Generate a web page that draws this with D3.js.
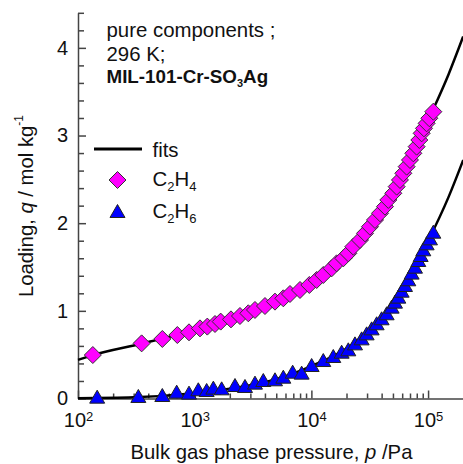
<!DOCTYPE html>
<html>
<head>
<meta charset="utf-8">
<script src="https://cdn.jsdelivr.net/npm/d3@7"></script>
<style>
  body { margin: 0; background: #fff; }
  svg { display: block; font-family: "Liberation Sans", Arial, sans-serif; }
</style>
</head>
<body>
<svg></svg>
<script>
// measured isotherm data, C2H4 (p in Pa, q in mol/kg)
const c2h4P = [134, 351, 528, 710, 894, 1110, 1283, 1493, 1670, 2046, 2443, 2881, 3286, 4003, 4877,
  5748, 6556, 7987, 9600, 11100, 12650, 14920, 16460, 18780, 20720, 22870, 26090, 28800, 31770,
  35080, 38730, 42730, 45630, 50360, 53800, 57430, 61360, 65530, 69980, 74740, 79800, 84140,
  88100, 92250, 97200, 102500, 110900];
const c2h4Q = [0.496, 0.629, 0.679, 0.724, 0.755, 0.80, 0.82, 0.85, 0.877, 0.903, 0.941, 0.972, 1.01,
  1.055, 1.105, 1.143, 1.192, 1.238, 1.295, 1.352, 1.409, 1.485, 1.542, 1.599, 1.656, 1.732, 1.808,
  1.884, 1.96, 2.037, 2.113, 2.189, 2.265, 2.341, 2.417, 2.493, 2.569, 2.645, 2.721, 2.797, 2.873,
  2.949, 3.025, 3.082, 3.139, 3.197, 3.272];

// C2H6
const c2h6P = [146, 329, 528, 701, 894, 1074, 1266, 1445, 1702, 2215, 2698, 3286, 3873, 4877, 5748,
  6912, 8253, 10050, 12650, 15410, 18170, 20720, 23640, 26960, 29760, 32840, 36250, 39990, 44160,
  48730, 52050, 55590, 59360, 63390, 67700, 72290, 77230, 82460, 86380, 91020, 97200, 103800, 110900];
const c2h6Q = [0.021, 0.029, 0.040, 0.078, 0.067, 0.105, 0.097, 0.124, 0.116, 0.154, 0.143, 0.181,
  0.211, 0.219, 0.249, 0.306, 0.295, 0.382, 0.439, 0.485, 0.534, 0.561, 0.629, 0.686, 0.743, 0.80,
  0.858, 0.915, 0.972, 1.048, 1.105, 1.162, 1.23, 1.295, 1.36, 1.436, 1.504, 1.58, 1.637, 1.702,
  1.77, 1.827, 1.903];

// fitted curves
const fitC2h4P = [100, 134, 350, 1000, 3000, 10000, 20000, 30000, 50000, 70000, 100000, 150000, 200000];
const fitC2h4Q = [0.44, 0.495, 0.625, 0.78, 0.985, 1.31, 1.635, 1.915, 2.335, 2.72, 3.17, 3.70, 4.13];
const fitC2h6P = [100, 300, 1000, 2000, 5000, 10000, 20000, 30000, 50000, 70000, 100000, 150000, 200000];
const fitC2h6Q = [0.004, 0.014, 0.06, 0.11, 0.22, 0.37, 0.57, 0.75, 1.07, 1.40, 1.795, 2.30, 2.72];

const yMajor = [0, 1, 2, 3, 4];
const yMinor = [0.2, 0.4, 0.6, 0.8, 1.2, 1.4, 1.6, 1.8, 2.2, 2.4, 2.6, 2.8, 3.2, 3.4, 3.6, 3.8, 4.2, 4.4];
const xMajor = [1e2, 1e3, 1e4, 1e5];
const xMinor = [2e2, 3e2, 4e2, 5e2, 6e2, 7e2, 8e2, 9e2, 2e3, 3e3, 4e3, 5e3, 6e3, 7e3, 8e3, 9e3,
  2e4, 3e4, 4e4, 5e4, 6e4, 7e4, 8e4, 9e4];

const width = 463;
const height = 464;
const svg = d3.select("svg").attr("width", width).attr("height", height);

const xScale = d3.scaleLog().domain([100, 2e5]).range([78, 463.2]);
const yScale = d3.scaleLinear().domain([0, 4.4]).range([398.5, 12.8]);
const axisColor = "#444";

// y axis
const yAxisG = svg.append("g").attr("transform", "translate(78,0)");
yAxisG.call(d3.axisLeft(yScale).tickValues(yMajor).tickSize(-8).tickSizeOuter(0).tickPadding(10).tickFormat(d3.format("d")));
svg.append("g").attr("transform", "translate(78,0)")
  .call(d3.axisLeft(yScale).tickValues(yMinor).tickSize(-6).tickSizeOuter(0).tickFormat(""))
  .select(".domain").remove();

// x axis
const xAxisG = svg.append("g").attr("transform", "translate(0,398.5)");
xAxisG.call(d3.axisBottom(xScale).tickValues(xMajor).tickSize(-8).tickSizeOuter(0).tickPadding(14).tickFormat(""));
svg.append("g").attr("transform", "translate(0,398.5)")
  .call(d3.axisBottom(xScale).tickValues(xMinor).tickSize(-5).tickSizeOuter(0).tickFormat(""))
  .select(".domain").remove();

xAxisG.selectAll(".tick text").each(function (d) {
  const t = d3.select(this);
  t.append("tspan").text("10");
  t.append("tspan").attr("font-size", 13).attr("dy", "-0.45em").text(Math.round(Math.log10(d)));
});

svg.selectAll(".domain, .tick line").attr("stroke", axisColor).attr("stroke-width", 1.5);
svg.selectAll(".tick text").attr("fill", "#111").attr("font-size", 20)
  .attr("font-family", "Liberation Sans, Arial, sans-serif");

// axis titles
const xTitle = svg.append("text")
  .attr("x", 271.5).attr("y", 459).attr("text-anchor", "middle")
  .attr("font-size", 20.3).attr("fill", "#111");
xTitle.append("tspan").text("Bulk gas phase pressure, ");
xTitle.append("tspan").attr("font-style", "italic").text("p");
xTitle.append("tspan").text(" /Pa");

const yTitle = svg.append("text")
  .attr("transform", "translate(33,206) rotate(-90)")
  .attr("text-anchor", "middle").attr("font-size", 20.3).attr("fill", "#111");
yTitle.append("tspan").text("Loading, ");
yTitle.append("tspan").attr("font-style", "italic").text("q");
yTitle.append("tspan").text(" / mol kg");
yTitle.append("tspan").attr("font-size", 12).attr("dy", "-0.8em").text("-1");

// fit lines
const line = d3.line()
  .x((d) => xScale(d[0]))
  .y((d) => yScale(d[1]))
  .curve(d3.curveMonotoneX);

const fits = [d3.zip(fitC2h4P, fitC2h4Q), d3.zip(fitC2h6P, fitC2h6Q)];
svg.append("g").selectAll("path")
  .data(fits)
  .enter()
  .append("path")
  .attr("d", line)
  .attr("fill", "none")
  .attr("stroke", "#000")
  .attr("stroke-width", 2.5);

// markers
const diamond = (r) => `M0,${-r}L${r},0L0,${r}L${-r},0Z`;
const triangle = (w, h) => `M0,${-h / 2}L${w / 2},${h / 2}L${-w / 2},${h / 2}Z`;

svg.append("g").selectAll("path")
  .data(d3.zip(c2h4P, c2h4Q))
  .enter()
  .append("path")
  .attr("transform", (d) => `translate(${xScale(d[0])},${yScale(d[1])})`)
  .attr("d", diamond(8.5))
  .attr("fill", "#ff00ff")
  .attr("stroke", "#333")
  .attr("stroke-width", 1);

svg.append("g").selectAll("path")
  .data(d3.zip(c2h6P, c2h6Q))
  .enter()
  .append("path")
  .attr("transform", (d) => `translate(${xScale(d[0])},${yScale(d[1])})`)
  .attr("d", triangle(15, 13))
  .attr("fill", "#0000ff")
  .attr("stroke", "#222")
  .attr("stroke-width", 1);

// legend / annotation
const note = svg.append("g").attr("fill", "#111");
note.append("text").attr("x", 106.5).attr("y", 37).attr("font-size", 20.4).text("pure components ;");
note.append("text").attr("x", 106.5).attr("y", 61).attr("font-size", 20.4).text("296 K;");
const mil = note.append("text").attr("x", 106.5).attr("y", 83).attr("font-size", 18.8).attr("font-weight", "bold");
mil.append("tspan").text("MIL-101-Cr-SO");
mil.append("tspan").attr("font-size", 11).attr("dy", 4).text("3");
mil.append("tspan").attr("dy", -4).text("Ag");

const legend = svg.append("g");
legend.append("line").attr("x1", 94).attr("x2", 142).attr("y1", 149).attr("y2", 149)
  .attr("stroke", "#000").attr("stroke-width", 3);
legend.append("text").attr("x", 152.5).attr("y", 157).attr("font-size", 20.4).attr("fill", "#111").text("fits");
legend.append("path").attr("transform", "translate(117.5,180)").attr("d", diamond(8.5))
  .attr("fill", "#ff00ff").attr("stroke", "#333").attr("stroke-width", 1);
legend.append("path").attr("transform", "translate(117.5,211)").attr("d", triangle(15, 13))
  .attr("fill", "#0000ff").attr("stroke", "#222").attr("stroke-width", 1);

const formula = (y, h) => {
  const t = legend.append("text").attr("x", 152.5).attr("y", y).attr("font-size", 20.4).attr("fill", "#111");
  t.append("tspan").text("C");
  t.append("tspan").attr("font-size", 13).attr("dy", 5).text("2");
  t.append("tspan").attr("dy", -5).text("H");
  t.append("tspan").attr("font-size", 13).attr("dy", 5).text(h);
};
formula(186, "4");
formula(218, "6");
</script>
</body>
</html>
